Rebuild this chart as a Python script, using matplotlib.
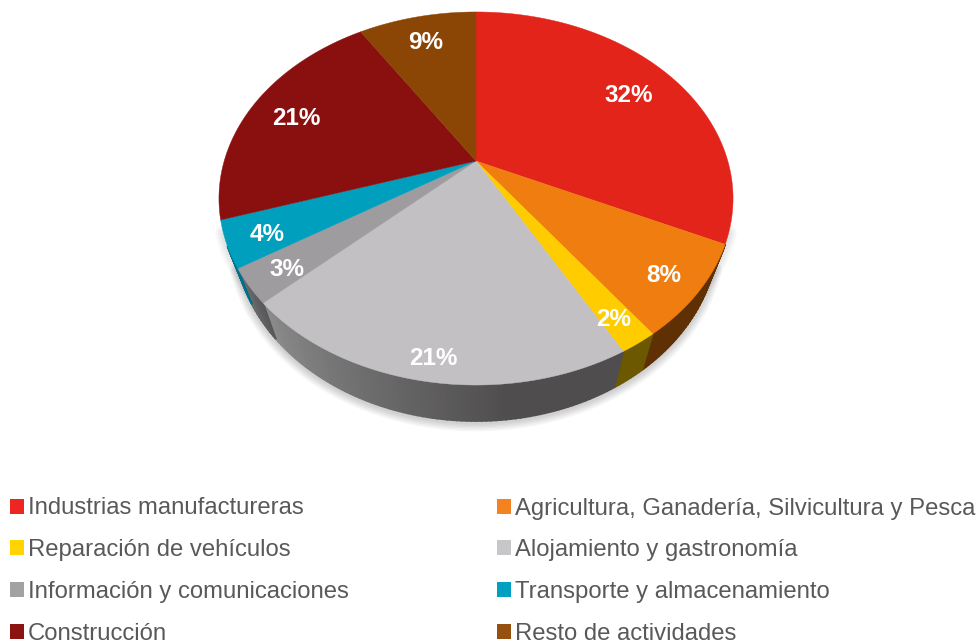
import numpy as np
import matplotlib
matplotlib.use('Agg')
import matplotlib.pyplot as plt
from matplotlib.colors import to_rgb
from matplotlib.patches import Patch, Polygon

plt.rcParams['font.family'] = ['Liberation Sans', 'DejaVu Sans']

categories = ['Industrias manufactureras', 'Agricultura, Ganadería, Silvicultura y Pesca',
              'Reparación de vehículos', 'Alojamiento y gastronomía',
              'Información y comunicaciones', 'Transporte y almacenamiento',
              'Construcción', 'Resto de actividades']
values = [32, 8, 2, 21, 3, 4, 21, 9]

top_colors = ['#e3241b', '#f07d0f', '#ffcc00', '#c2c0c3', '#9e9c9f', '#009fbd', '#89100f', '#8b4606']
legend_colors = ['#ed2622', '#f58220', '#ffd400', '#c7c6c8', '#a2a1a4', '#00a1c0', '#8b1413', '#96500f']
# side wall colour at the start and the end of each slice (clockwise)
side_start = ['#7a1510', '#5e3003', '#6b5800', '#4f4d4e', '#58575a', '#006f88', '#4a0807', '#4a2603']
side_end = ['#7a1510', '#5e3003', '#6b5800', '#8c8c8c', '#6e6d70', '#006f88', '#4a0807', '#4a2603']
label_radius = [0.78, 0.86, 0.87, 0.90, 0.85, 0.85, 0.80, 0.83]

# perspective of the pie in pixels
CX, CY = 476, 161
A, B, K = 251.8, 179, 0.201
DEPTH = 36
BOTTOM_SCALE = 0.94


def project(theta, radius=1.0, bottom=False):
    u = radius * np.sin(theta)
    v = radius * np.cos(theta)
    d = 1 + K * v
    if bottom:
        return CX + BOTTOM_SCALE * A * u / d, CY + DEPTH - B * v / d
    return CX + A * u / d, CY - B * v / d


def mix(c1, c2, t):
    return tuple((1 - t) * a + t * b for a, b in zip(to_rgb(c1), to_rgb(c2)))


fig = plt.figure(figsize=(9.78, 6.44), dpi=100)
ax = fig.add_axes([0, 0, 1, 1])
ax.set_xlim(0, 978)
ax.set_ylim(644, 0)
ax.axis('off')

edges = np.cumsum([0] + values) / sum(values) * 2 * np.pi

# soft shadow round the lower rim
rim = np.linspace(np.pi * 0.62, np.pi * 1.38, 200)
for w in range(2, 14, 2):
    bx, by = project(rim, bottom=True)
    ax.plot(bx, by + 2, color='black', lw=w, alpha=0.03, zorder=1, solid_capstyle='round')
    tx, ty = project(rim)
    ax.plot(tx, ty + 1, color='black', lw=w, alpha=0.018, zorder=1, solid_capstyle='round')

# side wall, drawn as thin quads so the colour can run along the rim
for i in range(len(values)):
    steps = max(int((edges[i + 1] - edges[i]) * 60), 2)
    t = np.linspace(edges[i], edges[i + 1], steps + 1)
    for j in range(steps):
        # the back of the wall is hidden behind the top face
        if np.cos(t[j]) > -0.42 or np.cos(t[j + 1]) > -0.42:
            continue
        frac = j / steps
        if categories[i].startswith('Alojamiento'):
            # dark at the front, getting lighter to the left
            frac = max(0.0, (frac - 0.3) / 0.7)
        col = mix(side_start[i], side_end[i], frac)
        x0, y0 = project(t[j])
        x1, y1 = project(t[j + 1])
        x2, y2 = project(t[j + 1], bottom=True)
        x3, y3 = project(t[j], bottom=True)
        ax.add_patch(Polygon([(x0, y0), (x1, y1), (x2, y2), (x3, y3)], closed=True,
                             facecolor=col, edgecolor=col, lw=1.2, zorder=2))

# top face
for i in range(len(values)):
    t = np.linspace(edges[i], edges[i + 1], 120)
    x, y = project(t)
    pts = [(CX, CY)] + list(zip(x, y))
    ax.add_patch(Polygon(pts, closed=True, facecolor=top_colors[i], edgecolor=top_colors[i],
                         lw=0.3, zorder=3))

# percentage labels
for i, v in enumerate(values):
    mid = (edges[i] + edges[i + 1]) / 2
    x, y = project(mid, radius=label_radius[i])
    ax.text(x, y + 4, f'{v}%', color='white', fontsize=17.5, fontweight='bold',
            ha='center', va='center', zorder=5)

# legend is filled column by column
order = [0, 2, 4, 6, 1, 3, 5, 7]
handles = [Patch(facecolor=legend_colors[i], edgecolor='none') for i in order]
labels = [categories[i] for i in order]
ax.legend(handles, labels, ncols=2, loc='upper left', bbox_to_anchor=(10 / 978, 1 - 497.5 / 644),
          frameon=False, fontsize=17.2, labelcolor='#595959', handlelength=0.586, handleheight=0.586,
          handletextpad=0.17, labelspacing=0.83, columnspacing=6.2, borderpad=0.0, borderaxespad=0.0)
leg = ax.get_legend()
leg.set_zorder(6)

fig.savefig('out.png', dpi=100)
